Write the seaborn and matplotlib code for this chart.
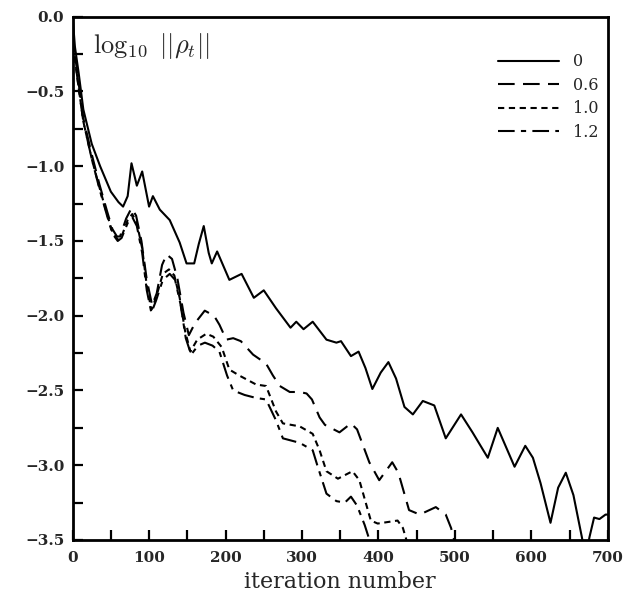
import matplotlib
matplotlib.use("Agg")
import matplotlib.pyplot as plt
import seaborn as sns
import numpy as np
import pandas as pd

# ---- data ----
x_0 = [0, 3, 8, 14, 25, 36, 50, 60, 66, 72, 77, 84, 91, 100, 105, 114, 127, 140, 149, 159,
       165, 171.5, 178, 182, 189, 205, 221, 237, 250, 266, 285, 292.5, 302, 314, 332, 345,
       351, 364, 374, 383, 392, 403, 413, 423, 434, 445, 458, 473, 488, 508, 523, 543, 556,
       578, 592, 602, 612, 625, 635, 645, 655, 666, 671, 676, 682, 689, 697, 700]
y_0 = [0.0, -0.2, -0.38, -0.62, -0.85, -1.0, -1.17, -1.24, -1.27, -1.2, -0.98, -1.13, -1.035,
       -1.27, -1.2, -1.29, -1.36, -1.51, -1.65, -1.65, -1.52, -1.40, -1.58, -1.65, -1.57,
       -1.76, -1.72, -1.88, -1.83, -1.95, -2.08, -2.04, -2.09, -2.04, -2.16, -2.18, -2.17,
       -2.27, -2.24, -2.35, -2.49, -2.38, -2.31, -2.42, -2.61, -2.66, -2.57, -2.60, -2.82,
       -2.66, -2.78, -2.95, -2.75, -3.01, -2.87, -2.95, -3.12, -3.385, -3.15, -3.05, -3.2,
       -3.48, -3.62, -3.48, -3.35, -3.36, -3.33, -3.33]

x_06 = [0, 3, 8, 14, 25, 35, 45, 52, 58, 62, 70, 77, 83, 90, 97, 104, 110, 117, 123, 130,
        137, 145, 152, 160, 172.8, 185, 192, 201, 210, 220, 236, 253, 262, 271, 284, 297,
        306, 313, 323, 330, 349, 364, 372, 388, 401, 418, 426, 440, 454, 475, 488, 495, 502]
y_06 = [-0.1, -0.25, -0.45, -0.68, -0.92, -1.12, -1.3, -1.42, -1.47, -1.47, -1.35, -1.28,
        -1.33, -1.5, -1.76, -1.93, -1.85, -1.66, -1.59, -1.62, -1.75, -1.98, -2.13, -2.05,
        -1.966, -2.0, -2.06, -2.16, -2.15, -2.17, -2.26, -2.32, -2.4, -2.47, -2.51, -2.51,
        -2.52, -2.56, -2.68, -2.73, -2.78, -2.72, -2.76, -2.98, -3.10, -2.98, -3.05, -3.30,
        -3.33, -3.28, -3.33, -3.42, -3.56]

x_10 = [0, 3, 8, 14, 25, 35, 45, 52, 59, 64, 72, 78, 84, 91, 97, 103, 109, 118, 126, 133,
        140, 147, 154, 163, 175, 184, 195, 205, 218, 240, 253, 266, 275, 297, 314, 323, 332,
        347, 366, 375, 390, 399, 412, 425, 432, 440]
y_10 = [-0.12, -0.28, -0.48, -0.7, -0.95, -1.14, -1.32, -1.44, -1.49, -1.47, -1.36, -1.32,
        -1.38, -1.55, -1.8, -1.96, -1.88, -1.72, -1.69, -1.73, -1.88, -2.1, -2.24, -2.16,
        -2.12, -2.14, -2.21, -2.36, -2.40, -2.46, -2.47, -2.64, -2.72, -2.74, -2.79, -2.90,
        -3.04, -3.09, -3.04, -3.1, -3.37, -3.39, -3.38, -3.37, -3.42, -3.56]

x_12 = [0, 3, 8, 14, 25, 35, 45, 52, 59, 64, 72, 78, 84, 91, 97, 103, 109, 118, 127, 134,
        141, 148, 155, 164, 173, 183, 192, 202, 210, 225, 240, 253, 266, 275, 297, 314, 320,
        332, 345, 356, 364, 372, 382, 392]
y_12 = [-0.12, -0.28, -0.48, -0.7, -0.95, -1.15, -1.33, -1.45, -1.5, -1.48, -1.38, -1.34,
        -1.4, -1.58, -1.83, -1.98, -1.9, -1.76, -1.72, -1.76, -1.92, -2.15, -2.26, -2.2,
        -2.18, -2.2, -2.24, -2.4, -2.50, -2.53, -2.55, -2.56, -2.70, -2.82, -2.85, -2.90,
        -3.0, -3.19, -3.24, -3.25, -3.21, -3.27, -3.4, -3.56]

labels = ["0", "0.6", "1.0", "1.2"]
x_ticks = [0, 100, 200, 300, 400, 500, 600, 700]
y_ticks = [0.0, -0.5, -1.0, -1.5, -2.0, -2.5, -3.0, -3.5]

series = [(x_0, y_0), (x_06, y_06), (x_10, y_10), (x_12, y_12)]
dashes = [(None, None), (8, 4), (3, 2.2), (8, 3, 2.5, 3)]

sns.set_style("white")
plt.rcParams["mathtext.fontset"] = "cm"

fig = plt.figure(figsize=(6.26, 5.98), dpi=100)
ax = fig.add_axes([0.116, 0.097, 0.855, 0.875])

for (xs, ys), lab, d in zip(series, labels, dashes):
    df = pd.DataFrame({"x": xs, "y": ys})
    sns.lineplot(data=df, x="x", y="y", ax=ax, color="black", linewidth=1.5,
                 label=lab, sort=False)
    line = ax.get_lines()[-1]
    if d[0] is not None:
        line.set_dashes(d)

ax.set_xlim(0, 700)
ax.set_ylim(-3.5, 0.0)
ax.set_xticks(x_ticks)
ax.set_xticks(np.arange(50, 700, 100), minor=True)
ax.set_yticks(y_ticks)
ax.set_yticks(np.arange(-3.25, 0, 0.5), minor=True)
ax.set_xticklabels([str(v) for v in x_ticks], fontfamily="DejaVu Serif", fontweight="bold",
                   fontsize=11)
ax.set_yticklabels(["0.0" if v == 0 else "\u2212%.1f" % abs(v) for v in y_ticks],
                   fontfamily="DejaVu Serif", fontweight="bold", fontsize=11)
ax.tick_params(which="both", direction="in", length=7, width=1.6, color="black",
               left=True, bottom=True, top=False, right=False)
ax.tick_params(axis="x", pad=8)
ax.tick_params(axis="y", pad=6)
for s in ax.spines.values():
    s.set_linewidth(2)
    s.set_color("black")

ax.set_xlabel("iteration number", fontfamily="DejaVu Serif", fontsize=16, labelpad=4)
ax.set_ylabel("")
ax.text(0.038, 0.972, r"$\log_{10}\,\,||\rho_t||$", transform=ax.transAxes,
        fontsize=19, va="top", ha="left")

leg = ax.legend(loc="upper left", bbox_to_anchor=(0.795, 0.93), frameon=False,
                handlelength=3.8, handletextpad=0.9, labelspacing=0.4,
                borderaxespad=0, borderpad=0,
                prop={"family": "DejaVu Serif", "size": 11.5})

fig.savefig("out.png", dpi=100)
